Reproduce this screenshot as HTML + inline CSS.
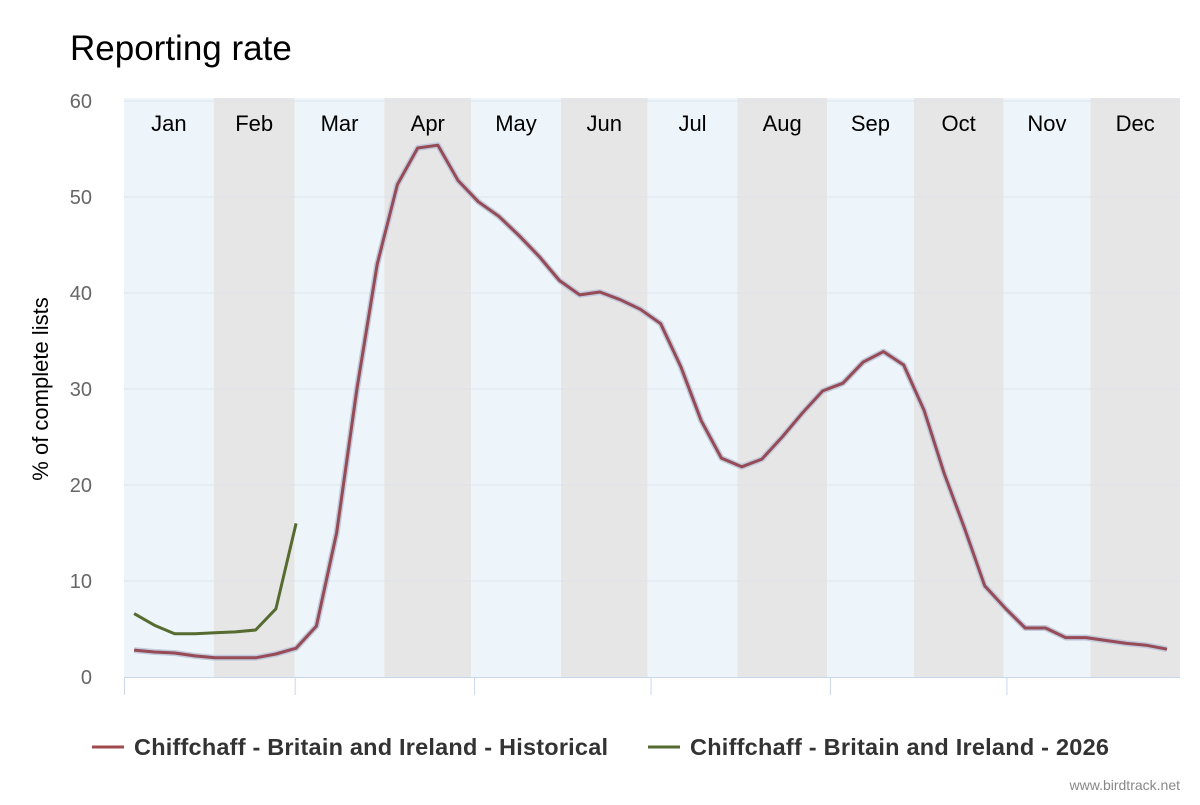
<!DOCTYPE html>
<html><head><meta charset="utf-8"><style>
body{margin:0;background:#fff;font-family:"Liberation Sans",sans-serif}
svg text{font-family:"Liberation Sans",sans-serif}
</style></head><body>
<svg id="c" width="1200" height="800" xmlns="http://www.w3.org/2000/svg">
<text x="70" y="60" font-size="35" fill="#000">Reporting rate</text>
<g id="bands"></g><g id="grid"></g><g id="lines"></g>
<text transform="translate(48,389) rotate(-90)" text-anchor="middle" font-size="22" fill="#000">% of complete lists</text>
<g>
<line x1="92" y1="747" x2="124" y2="747" stroke="#a04a4e" stroke-width="3"/>
<text x="134" y="755" font-size="23.5" font-weight="bold" fill="#333" textLength="474">Chiffchaff - Britain and Ireland - Historical</text>
<line x1="648" y1="747" x2="680" y2="747" stroke="#556b2f" stroke-width="3"/>
<text x="690" y="755" font-size="23.5" font-weight="bold" fill="#333" textLength="419">Chiffchaff - Britain and Ireland - 2026</text>
</g>
<text x="1180" y="790" text-anchor="end" font-size="14" fill="#888">www.birdtrack.net</text>
</svg>
<script>
const months=["Jan","Feb","Mar","Apr","May","Jun","Jul","Aug","Sep","Oct","Nov","Dec"];
const monthDays=[31,28,31,30,31,30,31,31,30,31,30,31];
const yTicks=[0,10,20,30,40,50,60];
const historical=[2.8,2.6,2.5,2.2,2.0,2.0,2.0,2.4,3.0,5.3,15,30,43,51.3,55.1,55.4,51.7,49.5,48,46,43.8,41.3,39.8,40.1,39.3,38.3,36.8,32.3,26.7,22.8,21.9,22.7,25,27.5,29.8,30.6,32.8,33.9,32.5,27.8,21.2,15.5,9.5,7.2,5.1,5.1,4.1,4.1,3.8,3.5,3.3,2.9];
const current2026=[6.6,5.4,4.5,4.5,4.6,4.7,4.9,7.1,16];
const NS="http://www.w3.org/2000/svg";
const X0=124,X1=1180,Y0=677,Y1=101;
const xd=d=>X0+d*(X1-X0)/365;
const y=v=>Y0-v*(Y0-Y1)/60;
function mk(t,a,p){const e=document.createElementNS(NS,t);for(const k in a)e.setAttribute(k,a[k]);p.appendChild(e);return e;}
const bands=document.getElementById('bands'),grid=document.getElementById('grid'),lines=document.getElementById('lines');
let d=0;
months.forEach((m,i)=>{
 const r=mk('rect',{x:xd(d),y:Y1-3,width:xd(d+monthDays[i])-xd(d),height:Y0-Y1+3,fill:i%2?'#e6e6e6':'#edf5fb'},bands);
 
 
 const t=mk('text',{x:xd(d+monthDays[i]/2),y:131,'text-anchor':'middle','font-size':22,fill:'#000'},bands);
 t.textContent=m;
 
 
 d+=monthDays[i];
});
yTicks.forEach(v=>{
 if(v>0){const l=mk('line',{x1:X0,x2:X1,y1:y(v),y2:y(v),stroke:'#dde3ea','stroke-width':1},grid);
 
 }
 const t=mk('text',{x:92,y:y(v)+7,'text-anchor':'end','font-size':20,fill:'#666'},grid);
 t.textContent=v;
 
 
});
const ax=mk('line',{x1:X0,x2:X1,y1:Y0+.5,y2:Y0+.5,stroke:'#ccd6eb','stroke-width':1},grid);


[0,59,121,182,244,305].forEach(dd=>{
 const l=mk('line',{x1:xd(dd)+.5,x2:xd(dd)+.5,y1:Y0,y2:Y0+18,stroke:'#ccd6eb','stroke-width':1},grid);
 
 
});
const pts=a=>a.map((v,i)=>xd(i*7+3.5).toFixed(1)+','+y(v).toFixed(1)).join(' ');
const halo=mk('polyline',{points:pts(historical),fill:'none',stroke:'#c2cadb','stroke-width':6,'stroke-linejoin':'round'},lines);


const h=mk('polyline',{points:pts(historical),fill:'none',stroke:'#964b56','stroke-width':3,'stroke-linejoin':'round'},lines);


const c=mk('polyline',{points:pts(current2026),fill:'none',stroke:'#556b2f','stroke-width':3,'stroke-linejoin':'round'},lines);


</script>
</body></html>
